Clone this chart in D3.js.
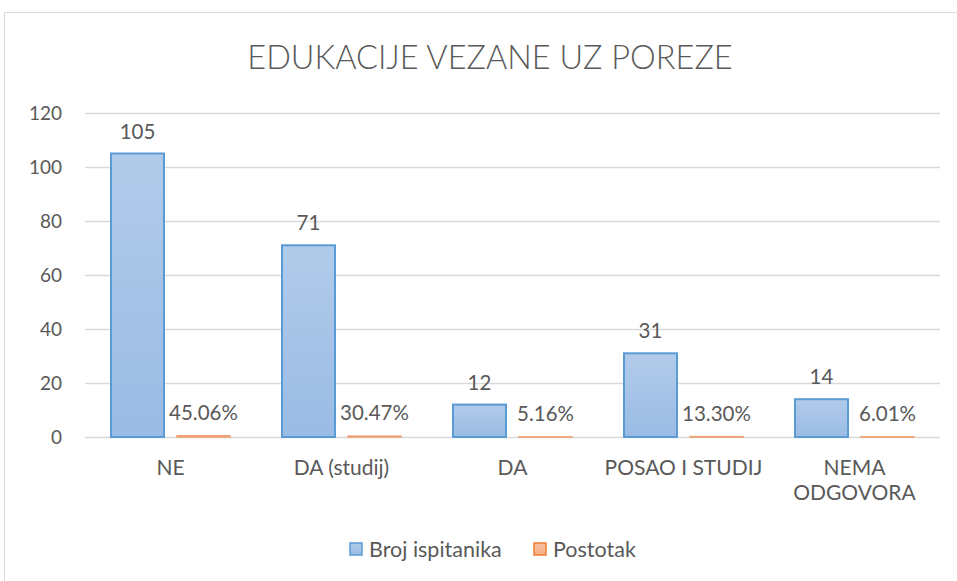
<!DOCTYPE html>
<html>
<head>
  <meta charset="utf-8">
  <title>Edukacije vezane uz poreze</title>
  <script src="https://cdn.jsdelivr.net/npm/d3@7"></script>
  <style>
    body { margin: 0; background: #fff; }
    text { font-family: Lato, "Open Sans", sans-serif; fill: #595959; }
  </style>
</head>
<body>
<script>
  // data
  const categories = ["NE", "DA (studij)", "DA", "POSAO I STUDIJ", "NEMA ODGOVORA"]
  const broj = [105, 71, 12, 31, 14]
  const postotak = [0.4506, 0.3047, 0.0516, 0.1330, 0.0601]
  const seriesNames = ["Broj ispitanika", "Postotak"]
  const yTicks = [0, 20, 40, 60, 80, 100, 120]

  const [w, h] = [957, 581]
  const margin = { top: 113, right: 17, bottom: 144, left: 85 }

  const svg = d3.select("body").append("svg")
    .attr("width", w).attr("height", h)

  // chart frame
  svg.append("rect")
    .attr("x", 4.5).attr("y", 12.5)
    .attr("width", 1000).attr("height", 600)
    .attr("fill", "#fff").attr("stroke", "#d9d9d9")

  const defs = svg.append("defs")
  const grad = defs.append("linearGradient").attr("id", "blueGrad")
    .attr("x1", 0).attr("y1", 0).attr("x2", 0).attr("y2", 1)
  grad.append("stop").attr("offset", "0%").attr("stop-color", "#b1cbea")
  grad.append("stop").attr("offset", "100%").attr("stop-color", "#9abbe4")
  const grad2 = defs.append("linearGradient").attr("id", "orangeGrad")
    .attr("x1", 0).attr("y1", 0).attr("x2", 0).attr("y2", 1)
  grad2.append("stop").attr("offset", "0%").attr("stop-color", "#f8c1a0")
  grad2.append("stop").attr("offset", "100%").attr("stop-color", "#f4ae84")

  const x = d3.scaleBand()
    .domain(categories)
    .range([margin.left, w - margin.right])

  const x1 = d3.scaleBand()
    .domain([0, 1])
    .range([0, x.bandwidth()])
    .paddingInner(0.197)
    .paddingOuter(0.394)

  const y = d3.scaleLinear()
    .domain([0, 120])
    .range([h - margin.bottom, margin.top])

  // title
  svg.append("text")
    .attr("x", 490).attr("y", 69)
    .attr("text-anchor", "middle")
    .style("font-size", "32.5px")
    .style("font-weight", "300")
    .text("EDUKACIJE VEZANE UZ POREZE")

  // gridlines + y axis
  const yAxis = d3.axisLeft(y).tickValues(yTicks).tickSize(-(w - margin.left - margin.right)).tickPadding(23)
  const gy = svg.append("g").attr("transform", `translate(${margin.left},0)`).call(yAxis)
  gy.select(".domain").remove()
  gy.selectAll(".tick line").attr("stroke", "#d9d9d9").attr("stroke-width", 1.5)
  gy.selectAll(".tick text").style("font-size", "19px").attr("fill", "#595959").style("font-family", "Lato, sans-serif")

  // x axis labels
  const xAxis = d3.axisBottom(x).tickSize(0).tickPadding(23)
  const gx = svg.append("g").attr("transform", `translate(0,${y(0)})`).call(xAxis)
  gx.select(".domain").remove()
  gx.selectAll(".tick text")
    .style("font-size", "21px").attr("fill", "#595959").style("font-family", "Lato, sans-serif")
    .each(function (d) {
      if (d === "NEMA ODGOVORA") {
        const t = d3.select(this)
        t.text(null)
        t.append("tspan").attr("x", 0).attr("dy", "0.71em").text("NEMA")
        t.append("tspan").attr("x", 0).attr("dy", "1.2em").text("ODGOVORA")
      }
    })

  const g = svg.append("g")

  // blue bars
  g.selectAll(".bar-broj").data(categories).join("rect")
    .attr("class", "bar-broj")
    .attr("x", d => x(d) + x1(0))
    .attr("y", (d, i) => y(broj[i]))
    .attr("width", x1.bandwidth())
    .attr("height", (d, i) => y(0) - y(broj[i]))
    .attr("fill", "url(#blueGrad)")
    .attr("stroke", "#5b9bd5").attr("stroke-width", 2)

  // orange bars (percent values on same axis, so they are tiny)
  g.selectAll(".bar-pct").data(categories).join("rect")
    .attr("class", "bar-pct")
    .attr("x", d => x(d) + x1(1))
    .attr("y", (d, i) => y(postotak[i]))
    .attr("width", x1.bandwidth())
    .attr("height", (d, i) => y(0) - y(postotak[i]))
    .attr("fill", "url(#orangeGrad)")
    .attr("stroke", "#f0a070").attr("stroke-width", 1.5)

  // value labels
  g.selectAll(".lbl-broj").data(categories).join("text")
    .attr("x", d => x(d) + x1(0) + x1.bandwidth() / 2)
    .attr("y", (d, i) => y(broj[i]) - 15)
    .attr("text-anchor", "middle")
    .style("font-size", "20.5px")
    .text((d, i) => broj[i])

  const pct = d3.format(".2%")
  g.selectAll(".lbl-pct").data(categories).join("text")
    .attr("x", d => x(d) + x1(1) + x1.bandwidth() / 2)
    .attr("y", (d, i) => y(postotak[i]) - 16)
    .attr("text-anchor", "middle")
    .style("font-size", "20.5px")
    .text((d, i) => pct(postotak[i]))

  // legend
  const legend = svg.append("g").attr("transform", "translate(349,549)")
  const items = [
    { name: seriesNames[0], fill: "url(#blueGrad)", stroke: "#5b9bd5", x: 0 },
    { name: seriesNames[1], fill: "url(#orangeGrad)", stroke: "#ed7d31", x: 184 }
  ]
  const li = legend.selectAll("g").data(items).join("g")
    .attr("transform", d => `translate(${d.x},0)`)
  li.append("rect")
    .attr("x", 1).attr("y", -6).attr("width", 12).attr("height", 12)
    .attr("fill", d => d.fill).attr("stroke", d => d.stroke).attr("stroke-width", 1.5)
  li.append("text")
    .attr("x", 20).attr("dy", "0.35em")
    .style("font-size", "21.5px")
    .text(d => d.name)
</script>
</body>
</html>
